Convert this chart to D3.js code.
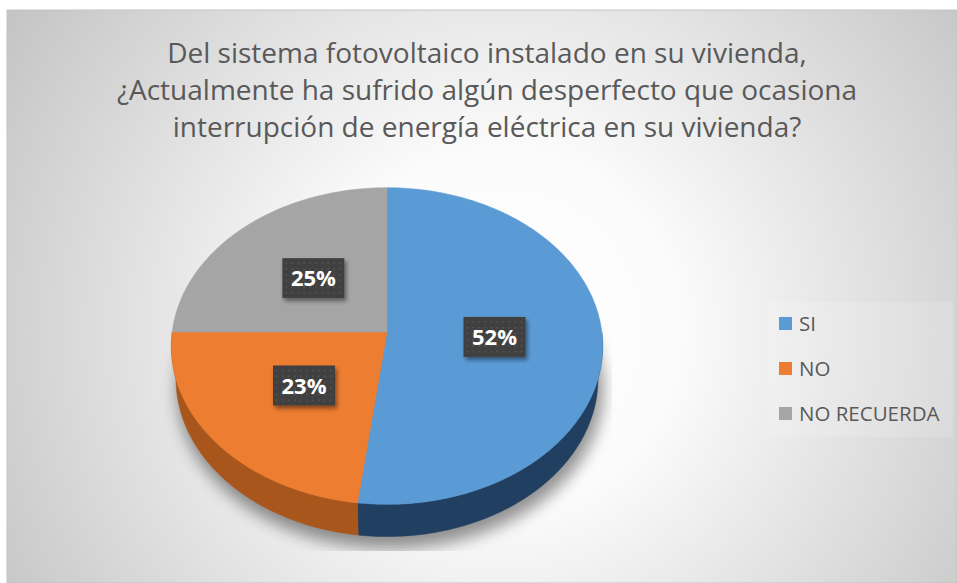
<!DOCTYPE html>
<html>
<head>
<meta charset="utf-8">
<script src="https://cdn.jsdelivr.net/npm/d3@7"></script>
<style>
  body { margin: 0; background: #fff; }
  svg { display: block; }
</style>
</head>
<body>
<div id="chart"></div>
<script>
// data
const categories = ["SI", "NO", "NO RECUERDA"];
const values = [52, 23, 25];
const topColors = ["#5B9BD5", "#ED7D31", "#A5A5A5"];
const sideColors = ["#213F60", "#A9561D", "#707070"];
const titleLines = [
    "Del sistema fotovoltaico instalado en su vivienda,",
    "¿Actualmente ha sufrido algún desperfecto que ocasiona",
    "interrupción de energía eléctrica en su vivienda?"
];

const dim = { width: 957, height: 583 };
const frame = { left: 7, top: 10 };

// 3d pie geometry (perspective view of a disk)
const pieCx = 387, pieCy = 332;
const tilt = 47 * Math.PI / 180;
const dist = 7.7, focal = 1654, thick = 0.231;

const svg = d3.select("#chart").append("svg")
    .attr("width", dim.width)
    .attr("height", dim.height);

const defs = svg.append("defs");

const bg = defs.append("radialGradient")
    .attr("id", "bg")
    .attr("gradientUnits", "userSpaceOnUse")
    .attr("cx", 500).attr("cy", 330).attr("r", 600);
bg.append("stop").attr("offset", 0).attr("stop-color", "#ffffff");
bg.append("stop").attr("offset", 0.3).attr("stop-color", "#fbfbfb");
bg.append("stop").attr("offset", 1).attr("stop-color", "#c2c2c2");

defs.append("filter").attr("id", "blur")
    .attr("x", -0.3).attr("y", -0.3).attr("width", 1.6).attr("height", 1.6)
    .append("feGaussianBlur").attr("stdDeviation", 8);

defs.append("filter").attr("id", "boxShadow")
    .attr("x", -0.3).attr("y", -0.3).attr("width", 1.6).attr("height", 1.6)
    .append("feDropShadow")
    .attr("dx", 2).attr("dy", 3).attr("stdDeviation", 2)
    .attr("flood-color", "#000").attr("flood-opacity", 0.45);

const dots = defs.append("pattern")
    .attr("id", "dots")
    .attr("patternUnits", "userSpaceOnUse")
    .attr("width", 6).attr("height", 6);
dots.append("rect").attr("width", 6).attr("height", 6).attr("fill", "#404040");
dots.append("rect").attr("x", 2).attr("y", 2).attr("width", 1.5).attr("height", 1.5).attr("fill", "#585858");

defs.append("clipPath").attr("id", "shadowClip")
    .append("rect")
    .attr("x", 158).attr("y", 150).attr("width", 454).attr("height", 401);

// chart area
svg.append("rect")
    .attr("x", frame.left).attr("y", frame.top)
    .attr("width", dim.width - frame.left)
    .attr("height", dim.height - frame.top)
    .attr("fill", "url(#bg)")
    .attr("stroke", "#c4c4c4")
    .attr("stroke-width", 1);

// title
svg.append("g")
    .selectAll("text")
    .data(titleLines)
    .enter().append("text")
    .attr("x", 487)
    .attr("y", (d, i) => 63 + i * 37)
    .attr("text-anchor", "middle")
    .attr("font-family", "'Open Sans', sans-serif")
    .attr("font-size", 28)
    .attr("fill", "#595959")
    .text(d => d);

function project(angle, r, h) {
    const X = r * Math.sin(angle);
    const Z = -r * Math.cos(angle);
    const v = Z * Math.sin(tilt) + h * Math.cos(tilt);
    const w = dist - Z * Math.cos(tilt) + h * Math.sin(tilt);
    return [pieCx + focal * X / w, pieCy + focal * v / w];
}

function arcSamples(a0, a1) {
    const n = Math.max(2, Math.ceil(Math.abs(a1 - a0) / (Math.PI / 180)));
    return d3.range(n + 1).map(i => a0 + (a1 - a0) * i / n);
}

const line = d3.line();

const pie = d3.pie().sort(null).value(d => d);
const slices = pie(values).map((s, i) => ({
    ...s,
    name: categories[i],
    top: topColors[i],
    side: sideColors[i]
}));

// soft shadow under the pie
svg.append("g")
    .attr("clip-path", "url(#shadowClip)")
    .append("path")
    .attr("d", line(arcSamples(0, 2 * Math.PI).map(a => project(a, 1.01, thick))) + "Z")
    .attr("transform", "translate(3,10)")
    .attr("fill", "#000")
    .attr("opacity", 0.42)
    .attr("filter", "url(#blur)");

// side walls (front half only)
const pieG = svg.append("g");
slices.forEach(s => {
    const a0 = Math.max(s.startAngle, Math.PI / 2);
    const a1 = Math.min(s.endAngle, 3 * Math.PI / 2);
    if (a1 <= a0) return;
    const angles = arcSamples(a0, a1);
    const pts = angles.map(a => project(a, 1, 0))
        .concat(angles.slice().reverse().map(a => project(a, 1, thick)));
    pieG.append("path")
        .attr("class", "side")
        .attr("d", line(pts) + "Z")
        .attr("fill", s.side)
        .attr("stroke", s.side)
        .attr("stroke-width", 0.5);
});

// top faces
pieG.selectAll(".topFace")
    .data(slices)
    .enter().append("path")
    .attr("class", "topFace")
    .attr("d", d => line([project(0, 0, 0)].concat(arcSamples(d.startAngle, d.endAngle).map(a => project(a, 1, 0)))) + "Z")
    .attr("fill", d => d.top)
    .attr("stroke", d => d.top)
    .attr("stroke-width", 0.5);

// data labels
const labels = svg.append("g")
    .selectAll("g")
    .data(slices)
    .enter().append("g")
    .attr("transform", d => {
        const p = project((d.startAngle + d.endAngle) / 2, 0.5, 0);
        return `translate(${p[0]},${p[1]})`;
    });

labels.append("rect")
    .attr("x", -31).attr("y", -20)
    .attr("width", 62).attr("height", 40)
    .attr("fill", "url(#dots)")
    .attr("filter", "url(#boxShadow)");

labels.append("text")
    .attr("text-anchor", "middle")
    .attr("y", 8)
    .attr("font-family", "'Open Sans', sans-serif")
    .attr("font-weight", "bold")
    .attr("font-size", 22)
    .attr("fill", "#fff")
    .text(d => Math.round(d.value / d3.sum(values) * 100) + "%");

// legend
svg.append("rect")
    .attr("x", 767).attr("y", 302)
    .attr("width", 186).attr("height", 135)
    .attr("fill", "#fff")
    .attr("opacity", 0.15);

const legend = svg.append("g")
    .selectAll("g")
    .data(categories)
    .enter().append("g")
    .attr("transform", (d, i) => `translate(779,${323.5 + i * 45})`);

legend.append("rect")
    .attr("x", 0).attr("y", -6.5)
    .attr("width", 13).attr("height", 13)
    .attr("fill", (d, i) => topColors[i]);

legend.append("text")
    .attr("x", 20).attr("y", 7.5)
    .attr("font-family", "'Open Sans', sans-serif")
    .attr("font-size", 20.5)
    .attr("fill", "#595959")
    .text(d => d);
</script>
</body>
</html>
